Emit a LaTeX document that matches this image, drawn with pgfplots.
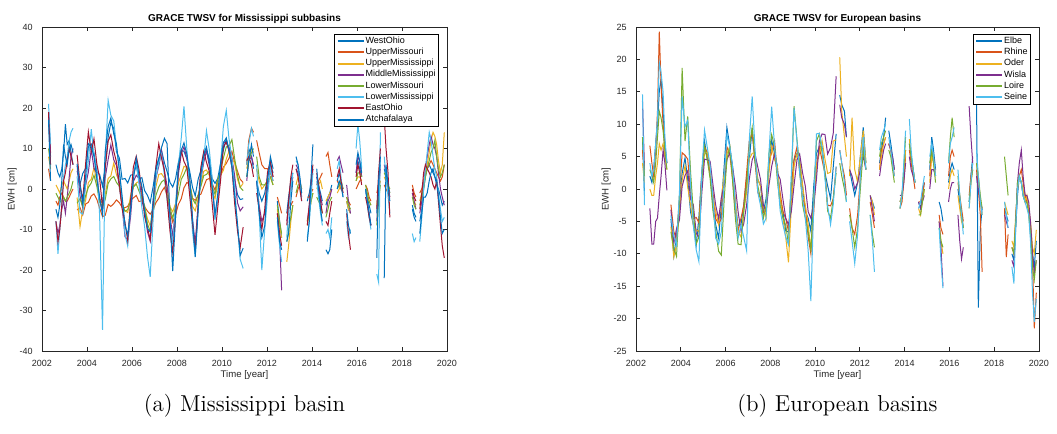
\documentclass[border=0pt]{standalone}
\usepackage{fontspec}
\setsansfont{Liberation Sans}
\usepackage{pgfplots}
\usepackage{pgfplotstable}
\pgfplotsset{compat=1.18}

\definecolor{c1}{rgb}{0,0.447,0.741}
\definecolor{c2}{rgb}{0.85,0.325,0.098}
\definecolor{c3}{rgb}{0.929,0.694,0.125}
\definecolor{c4}{rgb}{0.494,0.184,0.556}
\definecolor{c5}{rgb}{0.466,0.674,0.188}
\definecolor{c6}{rgb}{0.301,0.745,0.933}
\definecolor{c7}{rgb}{0.635,0.078,0.184}
\definecolor{axgray}{rgb}{0.15,0.15,0.15}

% Mississippi subbasins, EWH in cm (nan = missing month)
\pgfplotstableread{
t WO UMo UMi MM LMo LMi EO At
2002.29 19 5 8 19 10 21 19 17
2002.38 8 2 5 9 6 11 6 2
2002.48 nan nan nan nan nan nan nan nan
2002.62 6 -3 1 -8 -1 -8 -8 -5
2002.71 4 -4 0 -11 -2 -16 -13 -7
2002.79 3 -2 -1 -9 -3 -10 -10 -4
2002.88 5 -1 1 -5 -3 -4 -4 2
2002.96 9 -2 2 -3 -2 3 2 11
2003.04 16 -3 1 -6 -3 6 4 8
2003.12 11 -3 0 -2 -2 8 7 6
2003.21 12 -2 2 3 -1 12 10 10
2003.29 9 -1 4 8 0 14 8 11
2003.38 6 0 5 10 2 15 6 9
2003.46 nan nan nan nan nan nan nan nan
2003.56 4.5 -5.2 -2.1 5.8 -3.5 3.1 8.4 6.2
2003.69 1.2 -4.6 -9.3 -1.7 -2.4 -5.8 1.3 0.8
2003.81 3.8 -6.4 -5.1 -4.6 -4.3 -6.2 -2.9 -3.6
2003.94 5.1 -3.7 -2.8 0.9 -1.6 1.4 6.3 3.2
2004.06 10.4 -3.3 1.6 4.2 0.4 6.9 14.1 11.2
2004.19 11.1 -1.7 2.4 9.8 1.5 14.8 9.2 10.3
2004.31 8.9 -1.2 5.3 5.1 3.4 8.1 12.4 8.1
2004.44 4.2 -2.6 1.7 3.9 0.6 5.2 6.1 2.4
2004.56 3.6 -4.7 -2.5 -2.8 -3.2 -6.4 2.8 -1.9
2004.69 0.7 -6.8 -3.6 -5.6 -4.4 -34.8 -4.7 -6.3
2004.81 5.6 -6.5 -1.3 2.8 -2.6 7.1 5.2 9.3
2004.94 12.8 -3.8 2.6 7.3 1.4 21.9 11.8 15.4
2005.06 16.4 -4.3 3.2 10.9 2.5 18.2 13.4 17.5
2005.19 14.9 -3.6 6.4 7.2 3.1 16.8 9.3 13.6
2005.31 9.2 -2.7 3.5 5.8 1.6 10.4 6.7 11.1
2005.44 7.6 -3.4 1.8 0.3 0.7 4.9 1.2 4.3
2005.56 2.4 -4.5 -3.7 -4.2 -3.6 -3.1 -4.8 -1.7
2005.69 2.6 -4.6 -5.4 -11.8 -5.5 -11.2 -8.3 -8.9
2005.81 1.5 -4.3 -5.8 -12.6 -5.1 -14.1 -12.7 -11.4
2005.94 3.4 -2.8 -1.5 -6.7 -2.8 -4.3 -2.6 -4.8
2006.06 3.6 -2.2 0.6 1.8 0.5 3.7 5.4 2.2
2006.19 5.7 -1.6 1.5 3.4 1.2 6.5 8.1 7.6
2006.31 2.5 -3.1 1.9 2.6 -0.5 1.3 4.8 3.5
2006.44 2.8 -2.9 -1.4 -2.8 -2.3 -4.6 -0.5 0.7
2006.56 -0.4 -4.4 -4.6 -5.5 -4.1 -9.2 -6.8 -5.5
2006.69 -1.6 -5.5 -7.4 -10.6 -8.7 -16.8 -9.6 -9.8
2006.81 -3.3 -6.2 -9.1 -12.9 -10.4 -21.7 -12.5 -10.6
2006.94 0.6 -5.1 -4.6 -5.3 -5.7 -7.4 -3.6 -2.6
2007.06 5.3 -3.4 0.5 2.7 -1.6 2.8 5.5 4.6
2007.19 7.4 -2.3 3.6 5.6 0.5 6.4 11.2 7.5
2007.31 9.6 -0.7 3.8 9.4 1.7 8.6 7.6 10.2
2007.44 6.5 0.4 2.7 4.6 2.3 3.5 4.6 12.5
2007.56 4.3 -1.6 0.6 0.7 -1.4 -2.6 -2.4 11.2
2007.69 1.6 -5.6 -4.4 -6.7 -4.5 -8.4 -10.5 -7.4
2007.81 0.5 -8.2 -5.6 -11.6 -7.3 -13.7 -15.8 -20.3
2007.94 2.6 -6.3 -3.5 -4.6 -4.2 -3.5 -6.7 -6.4
2008.06 6.5 -3.8 1.4 3.6 -1.3 5.6 4.6 5.7
2008.19 9.6 -2.4 3.6 8.7 2.4 12.6 9.5 9.6
2008.31 9.3 0.3 5.6 10.4 3.6 20.4 6.8 11.4
2008.44 7.4 1.6 5.3 7.6 5.4 9.6 5.3 8.6
2008.56 4.5 1.2 0.7 2.5 1.6 0.5 -1.4 3.3
2008.69 0.4 -2.3 -4.3 -7.6 -2.4 -10.6 -8.6 -7.3
2008.81 -1.7 -2.8 -5.4 -13.4 -3.6 -16.6 -15.2 -16.8
2008.94 2.4 -1.6 -2.3 -3.6 -1.4 -4.6 -4.3 -5.4
2009.06 4.6 -1.3 1.3 2.4 0.6 2.6 5.4 3.6
2009.19 8.4 0.6 4.4 6.6 3.3 7.6 9.3 8.5
2009.31 9.6 2.3 4.7 9.5 3.6 14.4 6.6 10.4
2009.44 7.4 2.6 3.3 5.6 4.4 9.5 4.3 6.4
2009.56 2.6 1.4 -0.4 1.5 0.6 2.6 -3.4 0.6
2009.69 1.4 -0.3 -2.4 -6.5 -1.3 -7.6 -11.3 -6.4
2009.81 2.6 2.4 1.4 -2.6 2.3 -2.4 -4.6 -1.3
2009.94 6.4 3.6 3.4 4.5 4.6 6.4 2.3 6.6
2010.06 9.5 5.4 4.6 11.6 7.6 15.4 10.4 11.4
2010.19 12.4 6.3 7.4 11.3 10.4 19.4 11.6 12.6
2010.31 9.6 7.6 9.3 10.4 10.6 12.5 9.4 9.6
2010.44 6.4 9.3 7.6 7.6 12.2 7.6 5.4 5.4
2010.56 2.3 6.6 6.4 3.4 7.6 0.4 -3.4 -1.4
2010.69 -1.4 4.4 2.4 -3.4 3.4 -9.4 -10.4 -8.6
2010.81 -2.6 2.4 0.4 -5.4 0.4 -17.4 -14.4 -16.4
2010.94 -2.4 1.6 1.4 -4.4 -0.4 -19.6 -9.4 -14.6
2011.02 nan nan nan nan nan nan nan nan
2011.10 6 6 5 2 3 6 7 3
2011.19 10 12 8 7 7 11 8 7
2011.31 8 15 10 8 9 15 6 11
2011.40 5 14 9 6 10 13 3 8
2011.46 nan nan nan nan nan nan nan nan
2011.54 2 12 5 2 8 6 -1 2
2011.65 -1 9 2 -4 3 -6 -5 -6
2011.77 -3 6 0 -8 1 -20 -10 -12
2011.90 -1 5 1 -6 1 -10 -5 -9
2012.02 3 5 2 0 2 -2 4 2
2012.15 6 4 3 5 3 5 7 8
2012.27 4 2 1 3 1 2 3 5
2012.37 nan nan nan nan nan nan nan nan
2012.46 -3 -2 -5 -6 -4 -8 -6 -7
2012.56 -8 -4 -9 -12 -8 -14 -11 -13
2012.65 -12 -6 -12 -25 -11 -18 -14 -15
2012.78 nan nan nan nan nan nan nan nan
2012.88 -6 -6 -18 -8 -13 -12 -9 -13
2012.96 -2 -5 -14 -4 -10 -5 -3 -11
2013.06 2 -4 -8 0 -7 0 3 -3
2013.15 4 -3 -4 3 -4 4 6 2
2013.21 nan nan nan nan nan nan nan nan
2013.29 5 -2 1 6 -1 7 5 8
2013.38 4 0 3 5 1 6 3 6
2013.46 2 1 2 2 1 2 0 3
2013.54 0 0 0 -2 -1 -3 -3 -1
2013.65 nan nan nan nan nan nan nan nan
2013.79 -3 -2 -9 -8 -8 -12 -9 -13
2013.88 -1 -2 -6 -4 -6 -8 -4 -8
2013.96 2 -1 -3 1 -3 -2 2 3
2014.04 5 0 -1 5 -1 4 6 11
2014.12 nan nan nan nan nan nan nan nan
2014.21 3 1 0 3 -2 2 4 5
2014.29 1 2 1 1 -3 -2 1 0
2014.38 -1 3 2 -2 -4 -6 -3 -5
2014.46 -3 4 0 -4 -6 -9 -6 -8
2014.54 nan nan nan nan nan nan nan nan
2014.62 -4 8 -3 -6 -7 -11 -8 -15
2014.71 -2 9 -2 -3 -5 -10 -9 -16
2014.79 -1 6 -1 -2 -3 -12 -6 -15
2014.88 1 3 0 0 -2 -7 -3 -10
2014.96 nan nan nan nan nan nan nan nan
2015.12 2 2 -1 7 0 5 3 0
2015.21 4 1 0 8 1 7 5 2
2015.29 2 0 1 6 2 3 2 1
2015.38 0 -1 0 4 0 -2 -1 -2
2015.46 nan nan nan nan nan nan nan nan
2015.54 -3 -2 -3 1 -2 -8 -6 -5
2015.62 -5 -3 -5 -3 -4 -12 -11 -9
2015.71 -6 -4 -6 -6 -5 -10 -15 -11
2015.83 nan nan nan nan nan nan nan nan
2015.96 4 0 2 4 2 10 3 6
2016.04 7 1 3 8 4 16 6 9
2016.12 5 2 3 7 4 12 4 7
2016.21 3 2 2 3 3 5 1 4
2016.29 nan nan nan nan nan nan nan nan
2016.38 0 1 0 0 1 0 -2 0
2016.46 -2 0 -2 -3 -1 -4 -4 -3
2016.54 -4 -2 -3 -6 -3 -7 -7 -6
2016.62 -6 -3 -4 -9 -4 -10 -9 -9
2016.75 nan nan nan nan nan nan nan nan
2016.88 -6 -1 -4 -8 -9 -21 -5 -17
2016.96 2 1 0 0 -3 -23 4 2
2017.04 6 2 2 5 1 14 10 8
2017.12 nan nan nan nan nan nan nan nan
2017.21 5 1 3 6 4 8 18 -22
2017.29 3 0 2 4 3 3 10 6
2017.38 1 -1 0 1 1 -2 4 1
2017.46 -1 -2 -1 -2 0 -6 -7 -3
2017.80 nan nan nan nan nan nan nan nan
2018.46 -4 1 -1 -1 -2 -11 0 -5
2018.54 -6 -1 -3 -3 -4 -13 -2 -7
2018.62 -7 -2 -4 -5 -5 -12 -3 -8
2018.70 nan nan nan nan nan nan nan nan
2018.79 -8 -1 -3 -6 -4 -13 -5 -11
2018.88 -5 0 -1 -3 -2 -7 -1 -6
2018.96 0 2 2 1 0 0 4 -2
2019.04 3 4 4 5 3 5 6 -2
2019.12 5 5 6 8 5 9 5 -1
2019.21 6 6 9 11 7 14 4 2
2019.29 5 7 12 13 9 12 3 4
2019.38 4 6 14 11 10 8 1 5
2019.46 3 5 13 10 12 5 0 3
2019.54 1 4 11 8 8 3 2 2
2019.62 0 3 7 4 5 -1 -3 -2
2019.71 -2 2 4 0 3 -5 -9 -7
2019.79 -4 3 6 -2 4 -8 -14 -11
2019.88 -3 6 14 -4 6 -7 -17 -10
}\miss

% European basins, EWH in cm
\pgfplotstableread{
t E R O W L S
2002.29 8 6 4 13.5 8 14.6
2002.38 -1 2 1 3 2 -2.5
2002.48 nan nan nan nan nan nan
2002.62 2 6.7 0 -3 3 4
2002.71 1 4 -1 -8.5 2 2
2002.79 3 2 -1 -8.5 1 3
2002.88 7 6 2 -5 4 7
2002.96 10 12 4 -4.5 8 11
2003.04 15 24.3 7 -1 12 19.5
2003.12 17 16 6 2 11 18
2003.21 12 10 7 6 9 15
2003.29 7 6 5 4 6 8
2003.38 4 4 3 -0.2 3 4
2003.46 nan nan nan nan nan nan
2003.56 -4.6 -2.4 -5.8 -3.2 -6.6 -4.1
2003.69 -10.3 -6.6 -10.5 -8.4 -9.2 -7.3
2003.81 -7.2 -7.8 -8.6 -6.1 -10.4 -8.7
2003.94 -2.6 -1.3 -3.7 -4.8 -1.4 -0.6
2004.06 2.4 5.6 1.3 0.4 18.7 14.3
2004.19 4.8 5.2 3.6 2.1 7.4 9.6
2004.31 1.4 4.6 0.3 2.8 11.2 10.6
2004.44 -3.6 -0.4 -2.6 -1.6 2.5 0.4
2004.56 -5.4 -4.6 -5.6 -2.4 -3.6 -5.6
2004.69 -8.6 -4.4 -6.3 -6.8 -8.5 -9.4
2004.81 -4.4 -5.2 -6.6 -7.5 -7.4 -11.2
2004.94 2.6 2.4 1.6 -0.6 1.5 2.7
2005.06 7.4 6.5 5.4 4.6 6.6 9.1
2005.19 4.5 5.6 5.7 4.5 4.4 6.3
2005.31 2.6 2.4 3.4 4.3 1.6 3.6
2005.44 -2.7 -0.6 -1.5 0.6 -3.4 -1.5
2005.56 -5.5 -4.6 -3.4 -2.5 -6.4 -7.6
2005.69 -7.6 -5.4 -5.5 -4.6 -9.6 -8.5
2005.81 -2.5 -4.6 -1.6 -1.4 -10.2 -6.6
2005.94 3.6 1.6 2.5 0.6 -1.5 1.4
2006.06 9.5 6.5 5.4 4.5 4.6 8.4
2006.19 6.6 5.4 6.6 5.6 6.5 6.5
2006.31 3.5 1.6 2.4 3.5 1.5 3.6
2006.44 -2.6 -3.5 -1.5 0.4 -4.6 -2.5
2006.56 -5.6 -6.4 -6.6 -3.5 -8.5 -7.6
2006.69 -5.5 -4.5 -7.4 -6.5 -8.6 -5.5
2006.81 -2.5 -2.6 -3.5 -5.4 -3.6 -7.4
2006.94 1.6 2.5 -0.5 -2.5 0.6 -9.5
2007.06 4.5 7.4 4.6 1.5 6.5 7.6
2007.19 9.4 8.5 5.5 4.5 9.5 14.3
2007.31 4.5 4.6 5.6 5.5 4.5 6.6
2007.44 1.5 -0.5 1.5 3.4 0.5 -0.5
2007.56 0.5 -1.4 0.5 1.5 -1.5 -2.5
2007.69 -3.5 -3.6 -2.5 -2.5 -4.5 -5.4
2007.81 -1.5 -3.5 -4.5 -3.4 -2.6 -4.5
2007.94 3.5 4.4 2.5 0.6 5.5 5.6
2008.06 7.5 5.6 6.5 3.5 8.4 12.7
2008.19 5.5 7.4 4.5 5.5 6.5 6.6
2008.31 3.6 2.5 3.5 2.5 1.5 2.5
2008.44 -1.5 -0.6 -1.4 1.5 -2.5 -3.4
2008.56 -3.5 -3.4 -4.5 -1.5 -4.4 -5.5
2008.69 -6.5 -4.6 -7.5 -4.5 -5.6 -7.4
2008.81 -6.6 -6.5 -11.3 -5.5 -8.5 -8.6
2008.94 -2.5 0.6 -2.6 -3.4 1.4 2.5
2009.06 4.5 4.6 3.5 0.6 12.8 12.5
2009.19 5.5 6.5 5.4 4.5 7.6 7.4
2009.31 4.4 2.6 4.5 5.4 3.5 2.5
2009.44 0.5 -1.5 0.6 2.5 -2.4 -1.5
2009.56 -3.4 -2.6 -2.5 0.5 -4.5 -4.4
2009.69 -4.5 -7.4 -5.5 -3.5 -6.6 -9.5
2009.81 -6.5 -10 -9.4 -4.5 -9.4 -17.3
2009.94 0.5 -3.5 -1.5 -2.4 -1.6 -2.5
2010.06 5.5 3.6 3.5 1.5 7.4 8.5
2010.19 6.5 6.4 5.5 7.4 8.5 8.6
2010.31 6.6 4.5 7.5 8.5 5.6 6.5
2010.44 2.5 2.4 4.6 8.4 2.5 1.6
2010.56 0.5 -2.5 2.4 5.4 -3.4 -2.6
2010.69 -1.5 -2.6 2.6 6.4 -4.5 -5.5
2010.81 3.4 -1.5 7.4 8.6 -1.5 -2.4
2010.94 8.5 3.4 7.6 17.4 2.5 3.5
2011.02 nan nan nan nan nan nan
2011.10 14.5 6 20.3 13 4 6
2011.19 13 4 12 11 2 4
2011.31 12 2 8 10 0 1
2011.40 8 -1 5 8 -2 -2
2011.46 nan nan nan nan nan nan
2011.54 3 -3 2 3 -4 -5
2011.65 1 -6 11 2 -6 -8
2011.77 -1 -7 3 0 -9 -11.5
2011.90 1 -4 1 1 -6 -7
2012.02 5 2 5 3 0 2
2012.15 9.5 7 9 5 6 8
2012.27 4 3 4 3 3 3
2012.37 nan nan nan nan nan nan
2012.46 -1 -2 -1 -1 -4 -4
2012.56 -2 -4 -2 -3 -7 -8
2012.65 -3 -6 -4 -5 -9 -12.8
2012.78 nan nan nan nan nan nan
2012.88 4 3 3 2 5 6
2012.96 6 6 5 4 7 8
2013.06 8 7 7 6 8 9
2013.15 11 8 8 7 9 10
2013.21 nan nan nan nan nan nan
2013.29 9 7 7 7 6 8
2013.38 7 6 6 6 5 6
2013.46 5 4 4 5 3 4
2013.54 3 2 3 3 1 2
2013.65 nan nan nan nan nan nan
2013.79 -2 -3 -2 -1 -3 -3
2013.88 -1 -2 -1 -1 -1 -1
2013.96 2 1 2 1 3 4
2014.04 6 5 6 4 8 9
2014.12 nan nan nan nan nan nan
2014.21 7 6 7.7 5 7 10.8
2014.29 5 4 5 3 5 6
2014.38 3 2 3 2 3 3
2014.46 1 0 1 1 1 1
2014.54 nan nan nan nan nan nan
2014.62 -2 -2 -3 -2 -4 -3
2014.71 -3 -2 -4 -3 -4 -2
2014.79 -1 -1 -2 -2 -2 0
2014.88 1 1 0 -1 0 2
2014.96 nan nan nan nan nan nan
2015.12 3 2 1 0 4 5
2015.21 8 6 5 3 6 7
2015.29 6 5 4 3 4 5
2015.38 3 2 2 2 1 2
2015.46 nan nan nan nan nan nan
2015.54 -2 -4 -5 -5 -6 -6
2015.62 -3 -6 -8 -9 -8 -11
2015.71 -5 -7 -10 -15 -9 -15.3
2015.83 nan nan nan nan nan nan
2015.96 1 2 0 -2 4 4
2016.04 3 5 2 0 8 7
2016.12 4 6 3 1 11 8
2016.21 3 5 2 1 8 9.5
2016.29 nan nan nan nan nan nan
2016.38 0 1 -1 -4 2 3
2016.46 -2 -1 -3 -8 -1 -1
2016.54 -4 -3 -5 -10.8 -4 -4
2016.62 -6 -5 -6 -9 -6 -7
2016.75 nan nan nan nan nan nan
2016.88 -2 -1 -3 12.8 -2 -3
2016.96 2 2 1 8 1 1
2017.04 5 4 3 4 3 4
2017.12 nan nan nan nan nan nan
2017.21 13.8 3 4 2 4 6
2017.29 -18.3 0 2 0 2 2
2017.38 -6 -4 -2 -2 -1 -2
2017.46 -3 -12.8 -4 -3 -3 -4
2017.80 nan nan nan nan nan nan
2018.46 -3 -3 -2 -4 5 -2
2018.54 -4 -10.5 -3 -5 2 -4
2018.62 -5 -7 -4 -6 -1 -6
2018.70 nan nan nan nan nan nan
2018.79 -10 -9 -8 -11 -9 -12
2018.88 -11 -10 -9 -12 -10 -14.6
2018.96 -6 -5 -4 -5 -5 -6
2019.04 -1 0 0 1 1 0
2019.12 2 2 2 4 2 2
2019.21 1 3 1 6 1 1
2019.29 -1 1 0 2 -1 -1
2019.38 -2 -1 -2 -1 -2 -2
2019.46 -2 -2 -1 -1 -2 -3
2019.54 -3 -3 -3 -2 -4 -4
2019.62 -6 -6 -5 -5 -7 -8
2019.71 -10 -11 -9 -10 -12 -16
2019.79 -12 -21.5 -10 -13 -14 -20.5
2019.88 -8 -16 -6.3 -11 -11 -17
}\europe

\pgfplotsset{
  matlab/.style={
    scale only axis, width=202.5pt, height=162pt,
    xmin=2002, xmax=2020, xtick={2002,2004,...,2020},
    tick align=inside, major tick length=2pt,
    axis line style={color=axgray, line width=0.4pt},
    every tick/.style={color=axgray, line width=0.4pt},
    tick label style={font=\sffamily\fontsize{4.5}{5}\selectfont, text=axgray},
    xticklabel style={yshift=-1pt},
    yticklabel style={xshift=-1.2pt},
    /pgf/number format/1000 sep={}, /pgf/number format/assume math mode=true,
    xlabel={Time [year]}, ylabel={EWH [cm]},
    xlabel style={at={(axis description cs:0.5,0)}, anchor=center, yshift=-12pt,
      font=\sffamily\fontsize{4.8}{5.5}\selectfont, text=axgray},
    ylabel style={at={(axis description cs:-0.074,0.5)}, anchor=center,
      font=\sffamily\fontsize{4.8}{5.5}\selectfont, text=axgray},
    every axis title shift=0pt,
    title style={at={(axis description cs:0.5,1)}, anchor=center, yshift=4pt,
      font=\sffamily\bfseries\fontsize{5}{6}\selectfont},
    unbounded coords=jump,
    legend cell align=left,
    legend image code/.code={\draw[#1, line width=1pt] (0pt,0pt) -- (13pt,0pt);},
    legend style={at={(1,1)}, anchor=north east, xshift=-4pt, yshift=-3.5pt,
      fill=white,
      font=\sffamily\fontsize{4.5}{5}\selectfont, inner xsep=1pt, inner ysep=0.6pt,
      nodes={inner sep=0.5pt, text height=3.4pt, text depth=1.2pt}},
    every axis plot/.append style={line width=0.5pt, mark=none},
  }
}

\begin{document}
\begin{tikzpicture}
\path[use as bounding box] (0,0) rectangle (528.5pt,217pt);

\begin{axis}[matlab, at={(21pt,41.5pt)}, anchor=south west,
    ymin=-40, ymax=40, ytick={-40,-30,...,40},
    title={GRACE TWSV for Mississippi subbasins}]
  \addplot[c1] table[x=t,y=WO]{\miss};
  \addplot[c2] table[x=t,y=UMo]{\miss};
  \addplot[c3] table[x=t,y=UMi]{\miss};
  \addplot[c4] table[x=t,y=MM]{\miss};
  \addplot[c5] table[x=t,y=LMo]{\miss};
  \addplot[c6] table[x=t,y=LMi]{\miss};
  \addplot[c7] table[x=t,y=EO]{\miss};
  \addplot[c1] table[x=t,y=At]{\miss};
  \legend{WestOhio,UpperMissouri,UpperMississippi,MiddleMississippi,LowerMissouri,LowerMississippi,EastOhio,Atchafalaya}
\end{axis}

\begin{axis}[matlab, at={(318pt,41.5pt)}, anchor=south west, width=201.5pt,
    ymin=-25, ymax=25, ytick={-25,-20,...,25},
    title={GRACE TWSV for European basins}]
  \addplot[c1] table[x=t,y=E]{\europe};
  \addplot[c2] table[x=t,y=R]{\europe};
  \addplot[c3] table[x=t,y=O]{\europe};
  \addplot[c4] table[x=t,y=W]{\europe};
  \addplot[c5] table[x=t,y=L]{\europe};
  \addplot[c6] table[x=t,y=S]{\europe};
  \legend{Elbe,Rhine,Oder,Wisla,Loire,Seine}
\end{axis}

\node[font=\rmfamily\fontsize{11.5}{13}\selectfont] at (122.25pt,14pt) {(a) Mississippi basin};
\node[font=\rmfamily\fontsize{11.5}{13}\selectfont] at (418.75pt,14pt) {(b) European basins};
\end{tikzpicture}
\end{document}
